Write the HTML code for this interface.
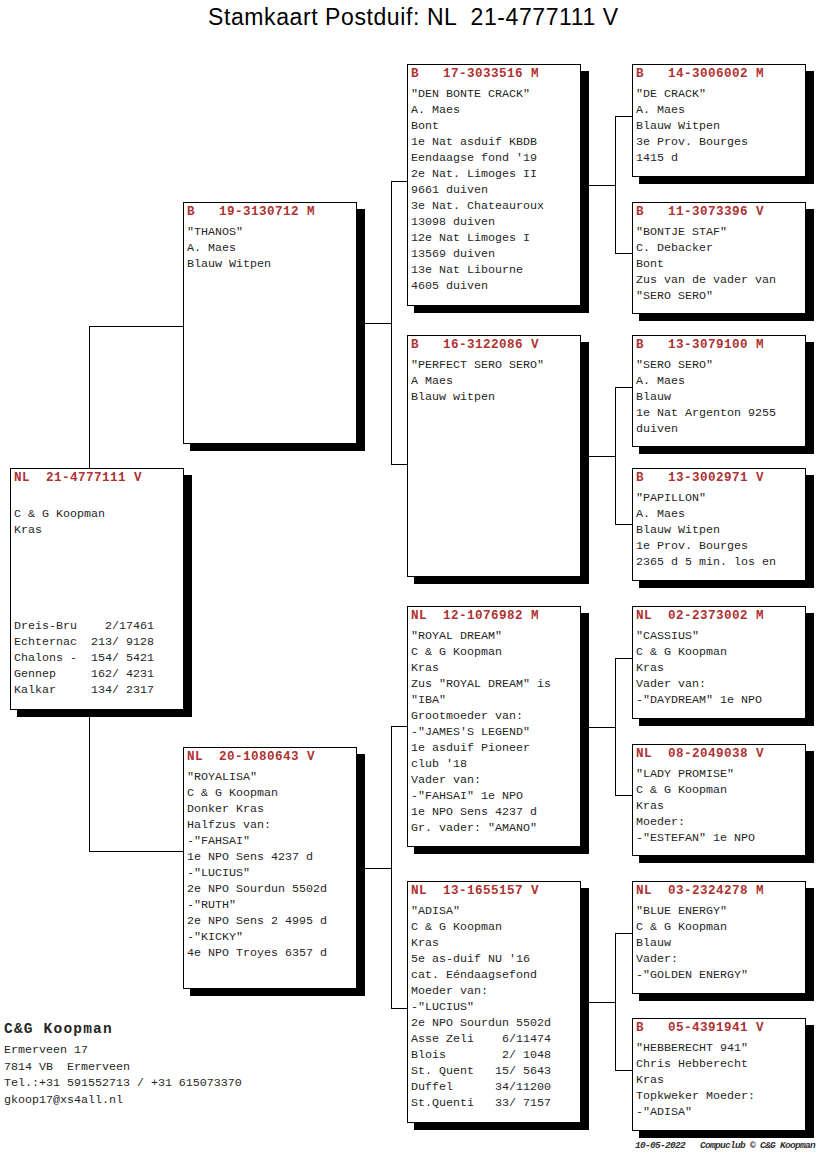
<!DOCTYPE html>
<html><head><meta charset="utf-8"><style>
html,body{margin:0;padding:0;background:#fff;}
body{width:816px;height:1172px;position:relative;overflow:hidden;}
.l{position:absolute;background:#000;}
.s{position:absolute;background:#000;}
.b{position:absolute;background:#fff;border:1px solid #000;box-sizing:border-box;}
.t{position:absolute;font-family:"Liberation Mono",monospace;font-size:11.67px;letter-spacing:0px;line-height:16px;white-space:pre;color:#262626;}
.h{position:absolute;font-family:"Liberation Mono",monospace;font-size:12.6px;letter-spacing:0.44px;line-height:16px;white-space:pre;color:#b03232;font-weight:bold;}
.ti{position:absolute;font-family:"Liberation Sans",sans-serif;font-size:23px;letter-spacing:0.59px;white-space:pre;color:#000;left:208px;top:2px;line-height:30px;}
</style></head><body>
<div class="ti">Stamkaart Postduif: NL  21-4777111 V</div>
<div class="l" style="left:89px;top:326px;width:1px;height:143px"></div>
<div class="l" style="left:89px;top:716px;width:1px;height:136px"></div>
<div class="l" style="left:89px;top:326px;width:95px;height:1px"></div>
<div class="l" style="left:89px;top:851px;width:95px;height:1px"></div>
<div class="l" style="left:357px;top:323px;width:35px;height:1px"></div>
<div class="l" style="left:357px;top:868px;width:35px;height:1px"></div>
<div class="l" style="left:391px;top:181px;width:1px;height:284px"></div>
<div class="l" style="left:391px;top:726px;width:1px;height:283px"></div>
<div class="l" style="left:391px;top:181px;width:17px;height:1px"></div>
<div class="l" style="left:391px;top:464px;width:17px;height:1px"></div>
<div class="l" style="left:391px;top:726px;width:17px;height:1px"></div>
<div class="l" style="left:391px;top:1008px;width:17px;height:1px"></div>
<div class="l" style="left:581px;top:185px;width:35px;height:1px"></div>
<div class="l" style="left:581px;top:456px;width:35px;height:1px"></div>
<div class="l" style="left:581px;top:727px;width:35px;height:1px"></div>
<div class="l" style="left:581px;top:1002px;width:35px;height:1px"></div>
<div class="l" style="left:615px;top:116px;width:1px;height:138px"></div>
<div class="l" style="left:615px;top:387px;width:1px;height:138px"></div>
<div class="l" style="left:615px;top:658px;width:1px;height:138px"></div>
<div class="l" style="left:615px;top:933px;width:1px;height:138px"></div>
<div class="l" style="left:615px;top:116px;width:18px;height:1px"></div>
<div class="l" style="left:615px;top:253px;width:18px;height:1px"></div>
<div class="l" style="left:615px;top:387px;width:18px;height:1px"></div>
<div class="l" style="left:615px;top:524px;width:18px;height:1px"></div>
<div class="l" style="left:615px;top:658px;width:18px;height:1px"></div>
<div class="l" style="left:615px;top:795px;width:18px;height:1px"></div>
<div class="l" style="left:615px;top:933px;width:18px;height:1px"></div>
<div class="l" style="left:615px;top:1070px;width:18px;height:1px"></div>
<div class="s" style="left:17px;top:475px;width:175px;height:242px"></div>
<div class="b" style="left:10px;top:468px;width:174px;height:242px"></div>
<div class="h" style="left:14px;top:470px">NL  21-4777111 V</div>
<div class="t" style="left:14px;top:490px">
C &amp; G Koopman
Kras





Dreis-Bru    2/17461
Echternac  213/ 9128
Chalons -  154/ 5421
Gennep     162/ 4231
Kalkar     134/ 2317</div>
<div class="s" style="left:190px;top:209px;width:175px;height:242px"></div>
<div class="b" style="left:183px;top:202px;width:174px;height:242px"></div>
<div class="h" style="left:187px;top:204px">B   19-3130712 M</div>
<div class="t" style="left:187px;top:224px">&quot;THANOS&quot;
A. Maes
Blauw Witpen</div>
<div class="s" style="left:190px;top:754px;width:175px;height:242px"></div>
<div class="b" style="left:183px;top:747px;width:174px;height:242px"></div>
<div class="h" style="left:187px;top:749px">NL  20-1080643 V</div>
<div class="t" style="left:187px;top:769px">&quot;ROYALISA&quot;
C &amp; G Koopman
Donker Kras
Halfzus van:
-&quot;FAHSAI&quot;
1e NPO Sens 4237 d
-&quot;LUCIUS&quot;
2e NPO Sourdun 5502d
-&quot;RUTH&quot;
2e NPO Sens 2 4995 d
-&quot;KICKY&quot;
4e NPO Troyes 6357 d</div>
<div class="s" style="left:414px;top:71px;width:175px;height:242px"></div>
<div class="b" style="left:407px;top:64px;width:174px;height:242px"></div>
<div class="h" style="left:411px;top:66px">B   17-3033516 M</div>
<div class="t" style="left:411px;top:86px">&quot;DEN BONTE CRACK&quot;
A. Maes
Bont
1e Nat asduif KBDB
Eendaagse fond &#x27;19
2e Nat. Limoges II
9661 duiven
3e Nat. Chateauroux
13098 duiven
12e Nat Limoges I
13569 duiven
13e Nat Libourne
4605 duiven</div>
<div class="s" style="left:414px;top:342px;width:175px;height:242px"></div>
<div class="b" style="left:407px;top:335px;width:174px;height:242px"></div>
<div class="h" style="left:411px;top:337px">B   16-3122086 V</div>
<div class="t" style="left:411px;top:357px">&quot;PERFECT SERO SERO&quot;
A Maes
Blauw witpen</div>
<div class="s" style="left:414px;top:613px;width:175px;height:241px"></div>
<div class="b" style="left:407px;top:606px;width:174px;height:241px"></div>
<div class="h" style="left:411px;top:608px">NL  12-1076982 M</div>
<div class="t" style="left:411px;top:628px">&quot;ROYAL DREAM&quot;
C &amp; G Koopman
Kras
Zus &quot;ROYAL DREAM&quot; is
&quot;IBA&quot;
Grootmoeder van:
-&quot;JAMES&#x27;S LEGEND&quot;
1e asduif Pioneer
club &#x27;18
Vader van:
-&quot;FAHSAI&quot; 1e NPO
1e NPO Sens 4237 d
Gr. vader: &quot;AMANO&quot;</div>
<div class="s" style="left:414px;top:888px;width:175px;height:242px"></div>
<div class="b" style="left:407px;top:881px;width:174px;height:242px"></div>
<div class="h" style="left:411px;top:883px">NL  13-1655157 V</div>
<div class="t" style="left:411px;top:903px">&quot;ADISA&quot;
C &amp; G Koopman
Kras
5e as-duif NU &#x27;16
cat. Eéndaagsefond
Moeder van:
-&quot;LUCIUS&quot;
2e NPO Sourdun 5502d
Asse Zeli    6/11474
Blois        2/ 1048
St. Quent   15/ 5643
Duffel      34/11200
St.Quenti   33/ 7157</div>
<div class="s" style="left:639px;top:71px;width:175px;height:113px"></div>
<div class="b" style="left:632px;top:64px;width:174px;height:113px"></div>
<div class="h" style="left:636px;top:66px">B   14-3006002 M</div>
<div class="t" style="left:636px;top:86px">&quot;DE CRACK&quot;
A. Maes
Blauw Witpen
3e Prov. Bourges
1415 d</div>
<div class="s" style="left:639px;top:209px;width:175px;height:112px"></div>
<div class="b" style="left:632px;top:202px;width:174px;height:112px"></div>
<div class="h" style="left:636px;top:204px">B   11-3073396 V</div>
<div class="t" style="left:636px;top:224px">&quot;BONTJE STAF&quot;
C. Debacker
Bont
Zus van de vader van
&quot;SERO SERO&quot;</div>
<div class="s" style="left:639px;top:342px;width:175px;height:112px"></div>
<div class="b" style="left:632px;top:335px;width:174px;height:112px"></div>
<div class="h" style="left:636px;top:337px">B   13-3079100 M</div>
<div class="t" style="left:636px;top:357px">&quot;SERO SERO&quot;
A. Maes
Blauw
1e Nat Argenton 9255
duiven</div>
<div class="s" style="left:639px;top:475px;width:175px;height:113px"></div>
<div class="b" style="left:632px;top:468px;width:174px;height:113px"></div>
<div class="h" style="left:636px;top:470px">B   13-3002971 V</div>
<div class="t" style="left:636px;top:490px">&quot;PAPILLON&quot;
A. Maes
Blauw Witpen
1e Prov. Bourges
2365 d 5 min. los en</div>
<div class="s" style="left:639px;top:613px;width:175px;height:113px"></div>
<div class="b" style="left:632px;top:606px;width:174px;height:113px"></div>
<div class="h" style="left:636px;top:608px">NL  02-2373002 M</div>
<div class="t" style="left:636px;top:628px">&quot;CASSIUS&quot;
C &amp; G Koopman
Kras
Vader van:
-&quot;DAYDREAM&quot; 1e NPO</div>
<div class="s" style="left:639px;top:751px;width:175px;height:112px"></div>
<div class="b" style="left:632px;top:744px;width:174px;height:112px"></div>
<div class="h" style="left:636px;top:746px">NL  08-2049038 V</div>
<div class="t" style="left:636px;top:766px">&quot;LADY PROMISE&quot;
C &amp; G Koopman
Kras
Moeder:
-&quot;ESTEFAN&quot; 1e NPO</div>
<div class="s" style="left:639px;top:888px;width:175px;height:113px"></div>
<div class="b" style="left:632px;top:881px;width:174px;height:113px"></div>
<div class="h" style="left:636px;top:883px">NL  03-2324278 M</div>
<div class="t" style="left:636px;top:903px">&quot;BLUE ENERGY&quot;
C &amp; G Koopman
Blauw
Vader:
-&quot;GOLDEN ENERGY&quot;</div>
<div class="s" style="left:639px;top:1025px;width:175px;height:113px"></div>
<div class="b" style="left:632px;top:1018px;width:174px;height:113px"></div>
<div class="h" style="left:636px;top:1020px">B   05-4391941 V</div>
<div class="t" style="left:636px;top:1040px">&quot;HEBBERECHT 941&quot;
Chris Hebberecht
Kras
Topkweker Moeder:
-&quot;ADISA&quot;</div>
<div class="t" style="left:4px;top:1021px;font-weight:bold;font-size:14.5px;letter-spacing:1.2px">C&amp;G Koopman</div>
<div class="t" style="left:4px;top:1042px;font-size:11.67px;letter-spacing:0;line-height:16.5px">Ermerveen 17
7814 VB  Ermerveen
Tel.:+31 591552713 / +31 615073370
gkoop17@xs4all.nl</div>
<div class="t" style="left:635px;top:1138px;font-size:9.5px;letter-spacing:-0.7px;font-style:italic;font-weight:bold;color:#333">10-05-2022   Compuclub © C&amp;G Koopman</div>
</body></html>
